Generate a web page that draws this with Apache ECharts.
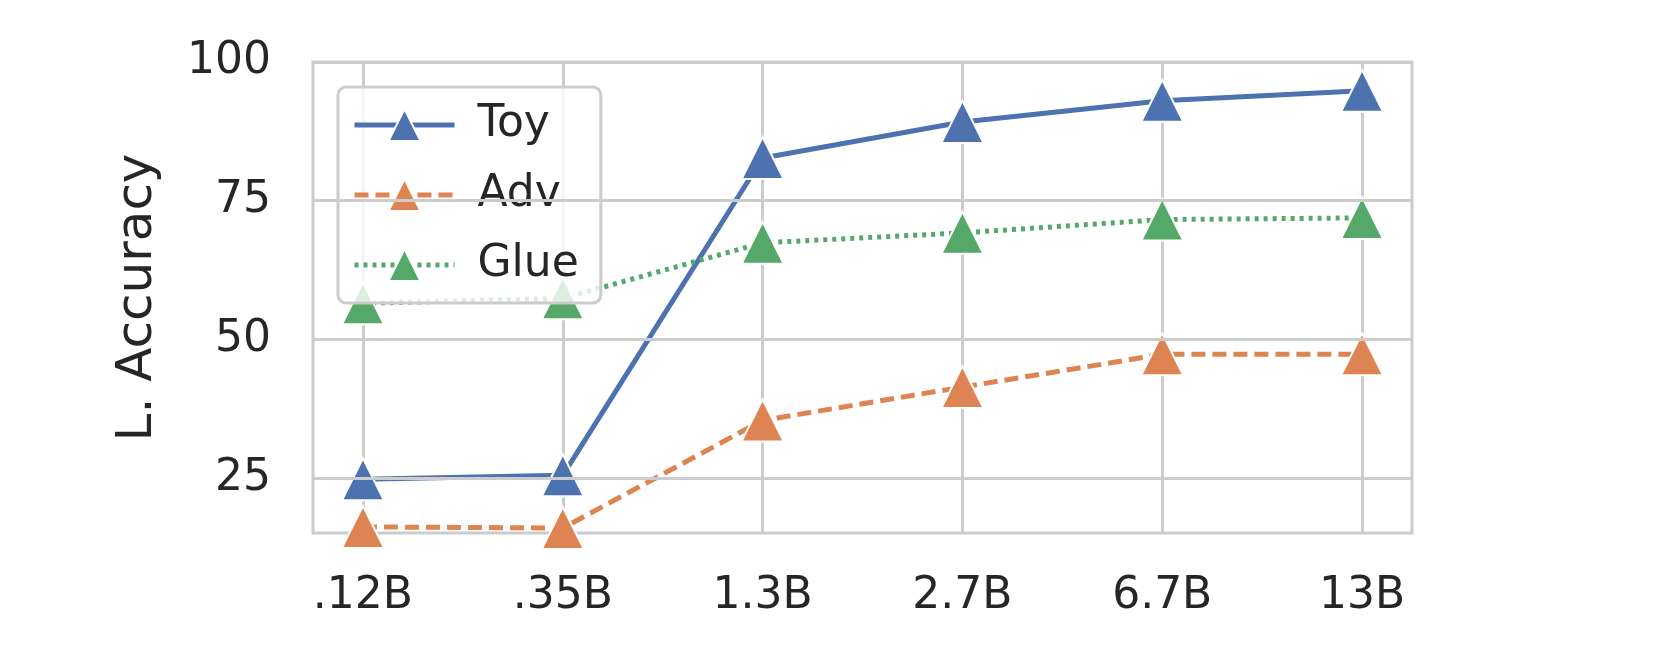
<!DOCTYPE html>
<html><head><meta charset="utf-8">
<script src="https://cdn.jsdelivr.net/npm/echarts@6/dist/echarts.min.js"></script>
<style>html,body{margin:0;background:#fff}#c{width:1661px;height:664px}</style>
</head><body><div id="c"></div>
<script>
const categories = ['.12B', '.35B', '1.3B', '2.7B', '6.7B', '13B'];
const toy = [24.8, 25.5, 82.7, 89.2, 93.0, 94.8];
const adv = [16.2, 16.0, 35.4, 41.4, 47.3, 47.3];
const glue = [56.5, 57.4, 67.4, 69.2, 71.6, 71.9];
const yTicks = [25, 50, 75, 100];

const font = 'DejaVu Sans';
function mk(name, data, color, type) {
  return {
    name, type: 'line', data: data.map((v, i) => [i, v]),
    symbol: 'triangle', symbolSize: 42,
    lineStyle: { color, width: 5, type },
    itemStyle: { color, borderColor: '#fff', borderWidth: 2 },
    z: 3
  };
}
const chart = echarts.init(document.getElementById('c'));
chart.setOption({
  animation: false,
  grid: { left: 313, right: 249, top: 62, bottom: 131, show: true, borderColor: '#cccccc', borderWidth: 3 },
  xAxis: {
    type: 'value', min: -0.25, max: 5.25, interval: 1,
    axisLine: { show: false },
    splitLine: { lineStyle: { color: '#cccccc', width: 3 } },
    axisLabel: {
      fontSize: 44, fontFamily: font, color: '#262626', margin: 42,
      customValues: [0, 1, 2, 3, 4, 5],
      formatter: v => categories[Math.round(v)] ?? ''
    },
    axisTick: { show: false, customValues: [0, 1, 2, 3, 4, 5] }
  },
  yAxis: {
    type: 'value', min: 15.1, max: 100,
    name: 'L. Accuracy', nameLocation: 'middle', nameGap: 150, nameRotate: 90,
    nameTextStyle: { fontSize: 50, fontFamily: font, color: '#262626' },
    axisLine: { show: false }, axisTick: { show: false },
    splitLine: { show: false },
    axisLabel: { fontSize: 44, fontFamily: font, color: '#262626', margin: 42, customValues: yTicks }
  },
  series: [
    mk('Toy', toy, '#4c72b0', 'solid'),
    mk('Adv', adv, '#dd8452', [14, 7]),
    mk('Glue', glue, '#55a868', [4, 5]),
    { type: 'line', data: yTicks.map(v => [-0.25, v]), markLine: {
        silent: true, symbol: 'none', label: { show: false },
        lineStyle: { color: '#cccccc', width: 3, type: 'solid' },
        data: yTicks.map(v => ({ yAxis: v }))
      }, showSymbol: false, lineStyle: { opacity: 0 }, z: 1 }
  ],
  legend: {
    data: ['Toy', 'Adv', 'Glue'],
    left: 338, top: 87, orient: 'vertical',
    itemWidth: 100, itemHeight: 40, itemGap: 26,
    padding: [16, 22, 16, 14],
    lineStyle: { width: 5, inactiveWidth: 5 },
    backgroundColor: 'rgba(255,255,255,0.8)', borderColor: '#cccccc', borderWidth: 3, borderRadius: 8,
    textStyle: { fontSize: 44, fontFamily: font, color: '#262626', padding: [0, 0, 0, 18] }
  }
});
</script></body></html>
